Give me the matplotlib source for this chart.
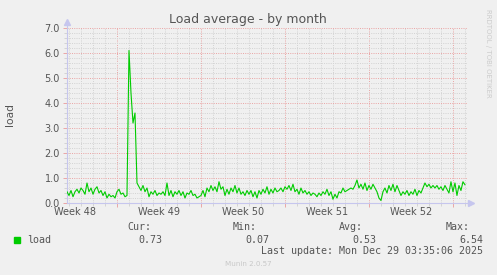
"""Munin style 'Load average - by month' graph."""

import matplotlib
matplotlib.use("Agg")
import matplotlib.pyplot as plt
import numpy as np
from matplotlib.ticker import FixedLocator, MultipleLocator, FormatStrFormatter

# one sample every 4 hours
SAMPLE_HOURS = 4
load = [
    0.45, 0.3, 0.5, 0.25, 0.45, 0.55, 0.4, 0.6, 0.5, 0.35,
    0.8, 0.45, 0.6, 0.35, 0.55, 0.65, 0.4, 0.5, 0.3, 0.45,
    0.2, 0.35, 0.25, 0.3, 0.2, 0.45, 0.55, 0.35, 0.4, 0.25,
    0.3, 6.1, 4.4, 3.2, 3.6, 0.8, 0.65, 0.5, 0.7, 0.45,
    0.6, 0.25, 0.45, 0.35, 0.5, 0.3, 0.4, 0.35, 0.45, 0.3,
    0.8, 0.3, 0.5, 0.25, 0.45, 0.35, 0.5, 0.3, 0.45, 0.2,
    0.4, 0.35, 0.5, 0.3, 0.35, 0.2, 0.25, 0.3, 0.5, 0.25,
    0.6, 0.45, 0.7, 0.5, 0.65, 0.45, 0.85, 0.55, 0.65, 0.3,
    0.55, 0.35, 0.6, 0.45, 0.7, 0.4, 0.6, 0.35, 0.45, 0.3,
    0.5, 0.35, 0.5, 0.25, 0.45, 0.2, 0.5, 0.35, 0.55, 0.4,
    0.65, 0.35, 0.55, 0.4, 0.6, 0.45, 0.5, 0.6, 0.45, 0.65,
    0.55, 0.7, 0.5, 0.75, 0.45, 0.55, 0.35, 0.6, 0.4, 0.5,
    0.35, 0.45, 0.3, 0.4, 0.35, 0.25, 0.4, 0.3, 0.45, 0.35,
    0.55, 0.3, 0.45, 0.15, 0.35, 0.2, 0.45, 0.4, 0.6, 0.45,
    0.5, 0.55, 0.6, 0.55, 0.7, 0.92, 0.6, 0.75, 0.55, 0.8,
    0.5, 0.7, 0.55, 0.75, 0.6, 0.45, 0.2, 0.1, 0.45, 0.6,
    0.4, 0.7, 0.5, 0.75, 0.45, 0.7, 0.5, 0.3, 0.45, 0.35,
    0.5, 0.3, 0.45, 0.35, 0.55, 0.3, 0.5, 0.4, 0.6, 0.8,
    0.65, 0.75, 0.6, 0.7, 0.6, 0.7, 0.55, 0.65, 0.5, 0.7,
    0.55, 0.4, 0.85, 0.45, 0.8, 0.3, 0.7, 0.5, 0.85, 0.73,
]

week_labels = ["Week 48", "Week 49", "Week 50", "Week 51", "Week 52"]
first_week_start = 4.14   # days from left edge to the first week boundary
span_days = 33.42

legend_stats = [("Cur:", "0.73"), ("Min:", "0.07"), ("Avg:", "0.53"), ("Max:", "6.54")]
stat_right_px = [(151, 162), (257, 269), (363, 376), (470, 483)]
last_update = "Last update: Mon Dec 29 03:35:06 2025"

BG = "#f0f0f0"
TXT = "#555555"
AXIS = "#c6c6ee"
MINOR = "#d4d4d4"
MAJOR = "#eaa8a8"
GREEN = "#00cc00"

plt.rcParams["lines.scale_dashes"] = False
W, H = 497, 275
fig = plt.figure(figsize=(W / 100, H / 100), dpi=100, facecolor=BG)


def px(x, y):
    return x / W, 1 - y / H


ax = fig.add_axes([67 / W, 1 - 203 / H, 401 / W, 175 / H], facecolor=BG)

days = np.arange(len(load)) * SAMPLE_HOURS / 24
ax.plot(days, load, color=GREEN, lw=0.8, zorder=3)

ax.set_xlim(0, span_days)
ax.set_ylim(0, 7)

week_lines = first_week_start + 7 * np.arange(5)
day_lines = first_week_start % 1 + np.arange(0, 34)
ax.xaxis.set_major_locator(FixedLocator(week_lines))
ax.xaxis.set_minor_locator(FixedLocator([d for d in day_lines if d < span_days]))
ax.yaxis.set_major_locator(MultipleLocator(1))
ax.yaxis.set_minor_locator(MultipleLocator(0.2))
ax.yaxis.set_major_formatter(FormatStrFormatter("%.1f"))
ax.set_xticklabels([])

dots = (0, (0.72, 0.9))
grid_kw = dict(lw=0.72, linestyle=dots)
ax.grid(which="minor", color=MINOR, zorder=1, **grid_kw)
ax.grid(which="major", color=MAJOR, zorder=2, **grid_kw)
ax.axvline(span_days, color=MINOR, **grid_kw)
ax.set_axisbelow(True)

ax.tick_params(which="major", length=3, width=0.72, color=MAJOR, labelsize=7,
               labelcolor=TXT, pad=2)
ax.tick_params(which="minor", length=2, width=0.72, color=MINOR)

for side in ("top", "right"):
    ax.spines[side].set_visible(False)
for side in ("left", "bottom"):
    ax.spines[side].set_color(AXIS)
    ax.spines[side].set_linewidth(0.8)

# axis arrows
ax.plot([0, 0], [1, 1.03], color=AXIS, lw=0.8, transform=ax.transAxes, clip_on=False)
ax.plot(0, 1.035, marker="^", ms=4, color=AXIS, transform=ax.transAxes, clip_on=False)
ax.plot([1, 1.006], [0, 0], color=AXIS, lw=0.8, transform=ax.transAxes, clip_on=False)
ax.plot(1.008, 0, marker=">", ms=4, color=AXIS, transform=ax.transAxes, clip_on=False)

for pos, label in zip(week_lines - 3.5, week_labels):
    ax.text(pos, -0.05, label, transform=ax.get_xaxis_transform(), ha="center",
            va="center", fontsize=7, color=TXT)

fig.text(*px(248, 19), "Load average - by month", ha="center", va="center",
         fontsize=9, color=TXT)
fig.text(*px(10, 115), "load", rotation=90, ha="center", va="center",
         fontsize=7.7, color=TXT)
fig.text(*px(488, 53), "RRDTOOL / TOBI OETIKER", rotation=270, ha="center",
         va="center", fontsize=5, color="#cccccc")

mono = dict(family="DejaVu Sans Mono", fontsize=7.2, color=TXT, va="center")
fig.patches.append(plt.Rectangle(px(14, 243), 6 / W, 6 / H, color=GREEN,
                                 transform=fig.transFigure, figure=fig))
fig.text(*px(27, 240), "load", ha="left", **mono)
for (head, val), (hx, vx) in zip(legend_stats, stat_right_px):
    fig.text(*px(hx, 227), head, ha="right", **mono)
    fig.text(*px(vx, 240), val, ha="right", **mono)
fig.text(*px(483, 251), last_update, ha="right", **mono)
fig.text(*px(248, 264), "Munin 2.0.57", ha="center", va="center", fontsize=5.1,
         color="#c8c8c8")

fig.savefig("out.png", dpi=100, facecolor=BG)
